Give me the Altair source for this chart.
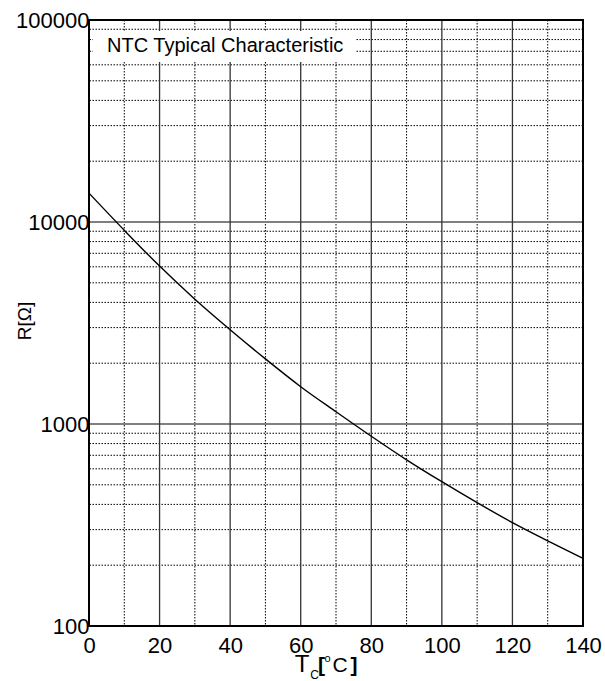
import altair as alt
import pandas as pd

# NTC thermistor: case temperature (°C) vs resistance (Ω)
temps = [0, 10, 20, 30, 40, 50, 60, 70, 80, 90, 100, 110, 120, 130, 140]
resist = [13900, 9100, 6050, 4150, 2930, 2100, 1530, 1150, 870, 665, 518, 408, 325, 264, 216]

# axis labels and grid positions
x_major = [0, 20, 40, 60, 80, 100, 120, 140]
x_minor = [10, 30, 50, 70, 90, 110, 130]
y_major = [100, 1000, 10000, 100000]
y_minor = [m * d for d in (100, 1000, 10000) for m in range(2, 10)]

W, H = 494, 606
FONT = "Liberation Sans"

xscale = alt.Scale(domain=[0, 140], nice=False, zero=False)
yscale = alt.Scale(type="log", domain=[100, 100000], nice=False)

curve_df = pd.DataFrame({"T": temps, "R": resist})

x_axis = alt.Axis(values=x_major, grid=False, ticks=False, tickSize=0, domain=False,
                  labelFontSize=22, labelFont=FONT, labelColor="black",
                  labelPadding=9, labelFlush=False, title=None)
y_axis = alt.Axis(values=y_major, format="d", grid=False, ticks=False, tickSize=0,
                  domain=False, labelFontSize=22, labelFont=FONT, labelColor="black",
                  labelPadding=0, labelFlush=False, title=None)

vmaj = alt.Chart(pd.DataFrame({"T": x_major})).mark_rule(
    color="#333333", strokeWidth=1.3).encode(x=alt.X("T:Q", scale=xscale, axis=x_axis))
vmin = alt.Chart(pd.DataFrame({"T": x_minor})).mark_rule(
    color="black", strokeWidth=1, strokeDash=[1.5, 1.5]).encode(x=alt.X("T:Q", scale=xscale))
hmaj = alt.Chart(pd.DataFrame({"R": y_major})).mark_rule(
    color="#808080", strokeWidth=2).encode(y=alt.Y("R:Q", scale=yscale, axis=y_axis))
hmin = alt.Chart(pd.DataFrame({"R": y_minor})).mark_rule(
    color="black", strokeWidth=1, strokeDash=[1.5, 1.5]).encode(y=alt.Y("R:Q", scale=yscale))

# white panel behind the in-plot caption
cap_box = alt.Chart(pd.DataFrame({"a": [0]})).mark_rect(color="white").encode(
    x=alt.value(4), x2=alt.value(267), y=alt.value(11), y2=alt.value(42))
caption = alt.Chart(pd.DataFrame({"a": [0]})).mark_text(
    text="NTC Typical Characteristic", font=FONT, fontSize=20, align="left",
    baseline="alphabetic", color="black").encode(x=alt.value(18), y=alt.value(32))

line = alt.Chart(curve_df).mark_line(color="black", strokeWidth=1.4,
                                     interpolate="monotone").encode(
    x=alt.X("T:Q", scale=xscale), y=alt.Y("R:Q", scale=yscale))

frame = alt.Chart(pd.DataFrame({"a": [0]})).mark_rect(
    fillOpacity=0, stroke="black", strokeWidth=2).encode(
    x=alt.value(0), x2=alt.value(W), y=alt.value(0), y2=alt.value(H))

one = pd.DataFrame({"a": [0]})


def label(text, x, y, size, weight="normal", angle=0):
    kw = dict(text=text, font=FONT, fontSize=size, fontWeight=weight,
              align="center", baseline="alphabetic", color="black")
    if angle:
        kw.update(angle=angle, baseline="middle")
    return alt.Chart(one).mark_text(**kw).encode(x=alt.value(x), y=alt.value(y))


x_title = [
    label("T", 213, 652, 24),
    label("C", 225.5, 659, 12),
    label("[", 232.5, 652, 21, "bold"),
    label("o", 238.5, 642, 11),
    label("C", 251, 652, 21),
    label("]", 265, 652, 21, "bold"),
]
y_title = label("R[Ω]", -64, 301, 19, angle=270)

chart = alt.layer(vmin, hmin, hmaj, vmaj, cap_box, caption, line, frame,
                  *x_title, y_title).properties(
    width=W, height=H,
    autosize=alt.AutoSizeParams(type="none"),
    padding={"left": 89, "top": 20, "right": 22, "bottom": 55},
).configure_view(stroke=None).configure(background="white")

chart.save("out.html", embed_options={"renderer": "svg", "actions": False})
